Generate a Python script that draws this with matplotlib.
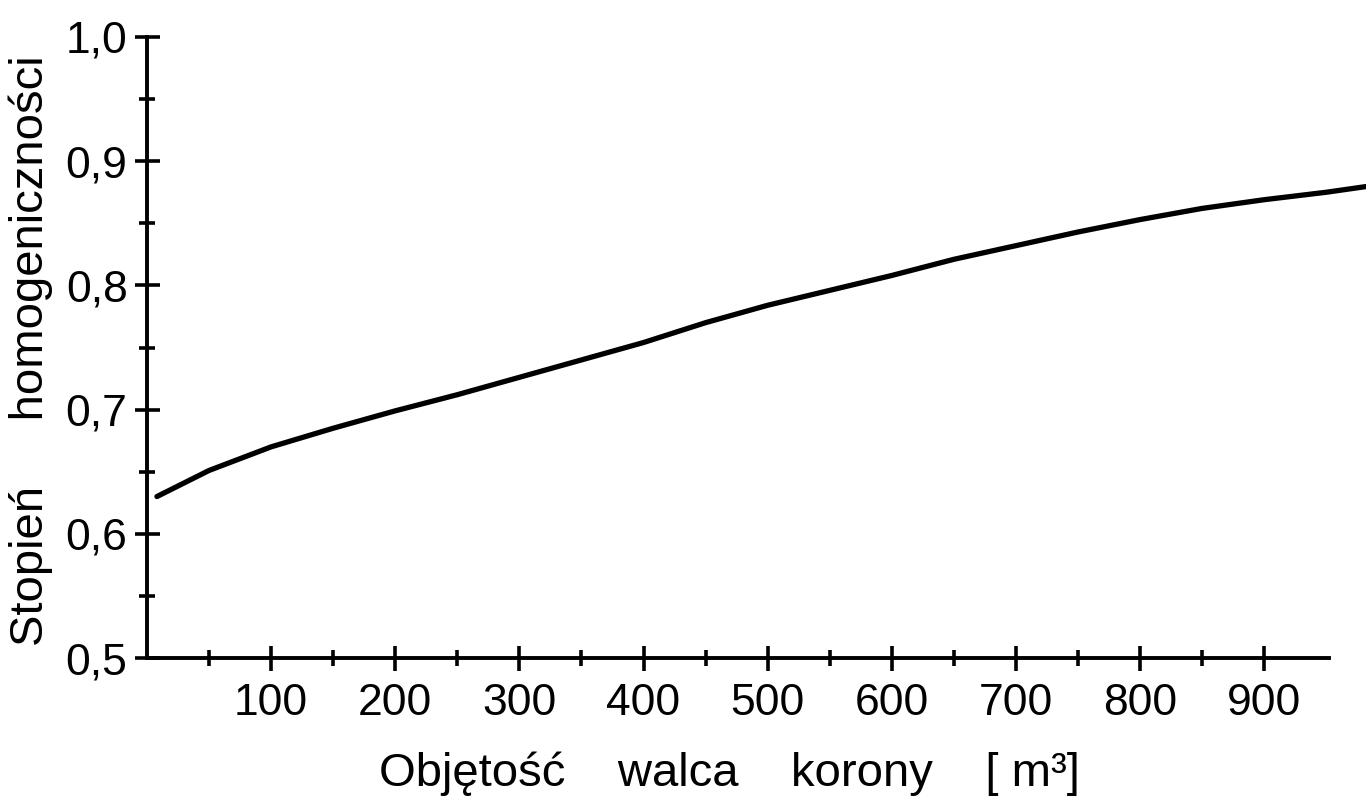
import numpy as np
import matplotlib.pyplot as plt
from matplotlib.ticker import FixedLocator

# values
objetosc = [8, 50, 100, 150, 200, 250, 300, 350, 400, 450, 500, 550, 600, 650, 700, 750, 800, 850, 900, 950, 985]
stopien = [0.630, 0.651, 0.670, 0.685, 0.699, 0.712, 0.726, 0.740, 0.754, 0.770, 0.784, 0.796, 0.808, 0.821, 0.832, 0.843, 0.853, 0.862, 0.869, 0.875, 0.880]

xticks = [100, 200, 300, 400, 500, 600, 700, 800, 900]
xminor = [50, 150, 250, 350, 450, 550, 650, 750, 850]
yticks = [0.5, 0.6, 0.7, 0.8, 0.9, 1.0]
ylabels = ["0,5", "0,6", "0,7", "0,8", "0,9", "1,0"]
yminor = [0.55, 0.65, 0.75, 0.85, 0.95]

plt.rcParams['font.family'] = ['Liberation Sans', 'DejaVu Sans']

fig = plt.figure(figsize=(13.66, 7.97), dpi=100)
ax = fig.add_axes([147 / 1366, 1 - 658 / 797, 1 - 147 / 1366, (658 - 37) / 797])

ax.plot(objetosc, stopien, color="black", lw=3.8, solid_capstyle="round", clip_on=False)

ax.set_xlim(0, 982)
ax.set_ylim(0.5, 1.0)

for s in ["top", "right"]:
    ax.spines[s].set_visible(False)
ax.spines["left"].set_linewidth(2.8)
ax.spines["bottom"].set_linewidth(2.8)
ax.spines["bottom"].set_bounds(0, 952)

ax.xaxis.set_major_locator(FixedLocator(xticks))
ax.xaxis.set_minor_locator(FixedLocator(xminor))
ax.set_xticklabels([str(v) for v in xticks])
ax.yaxis.set_major_locator(FixedLocator(yticks))
ax.yaxis.set_minor_locator(FixedLocator(yminor))
ax.set_yticklabels(ylabels)

ax.tick_params(which="major", direction="inout", length=18, width=2.6, labelsize=32, pad=5)
ax.tick_params(which="minor", direction="inout", length=12, width=2.6)
ax.tick_params(axis="x", which="major", pad=9)

ax.set_xlabel("Objętość    walca    korony    [ m³]", fontsize=34)
ax.set_ylabel("Stopień     homogeniczności", fontsize=34)
ax.xaxis.set_label_coords(0.478, -0.15)
ax.yaxis.set_label_coords(-0.077, 0.495)

fig.savefig("out.png", dpi=100)
